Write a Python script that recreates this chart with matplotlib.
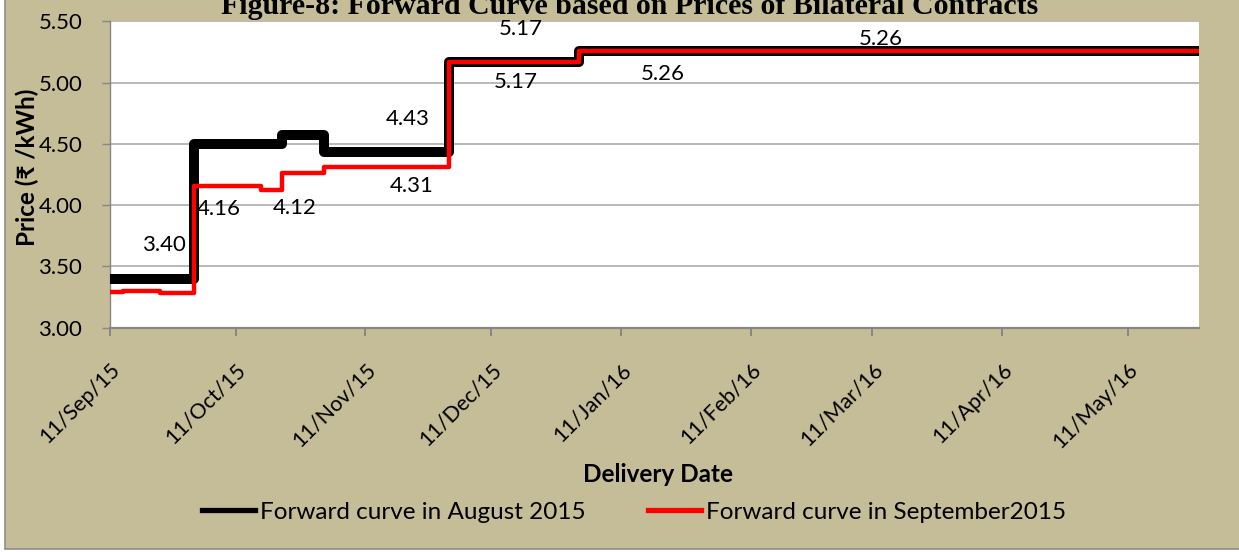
import matplotlib
matplotlib.use("Agg")
import matplotlib.pyplot as plt
import matplotlib.dates as mdates
from matplotlib.patches import Rectangle
from matplotlib.lines import Line2D
import numpy as np

# ---------------- data ----------------
aug_dates = ["2015-09-11", "2015-10-01", "2015-10-22", "2015-11-01",
             "2015-12-01", "2016-01-01", "2016-05-28"]
aug_values = [3.40, 4.50, 4.57, 4.43, 5.17, 5.26, 5.26]

sep_dates = ["2015-09-11", "2015-09-14", "2015-09-23", "2015-10-01",
             "2015-10-17", "2015-10-22", "2015-11-01", "2015-12-01",
             "2016-01-01", "2016-05-28"]
sep_values = [3.29, 3.30, 3.28, 4.16, 4.12, 4.26, 4.31, 5.17, 5.26, 5.26]

label_dates = ["2015-09-24", "2015-10-07", "2015-10-25", "2015-11-21",
               "2015-11-22", "2015-12-18", "2015-12-17", "2016-03-13",
               "2016-01-21"]
label_values = [3.40, 4.16, 4.12, 4.43, 4.31, 5.17, 5.17, 5.26, 5.26]

series_names = ["Forward curve in August 2015", "Forward curve in September2015"]
title = "Figure-8: Forward Curve based on Prices of Bilateral Contracts"
ylabel = "Price (\u20b9 /kWh)"
xlabel = "Delivery Date"
yticks = [3.00, 3.50, 4.00, 4.50, 5.00, 5.50]

# ---------------- layout / style ----------------
W, H = 1239, 552
label_offsets_px = [34, -23, -18, 33, -19, 33, -20, 12, -23]
x_start, x_end = "2015-09-11", "2016-05-28"
FONT = ["Lato", "DejaVu Sans"]
TAN = "#C4BD97"
GRID = "#A6A6A6"
AXC = "#868686"
FS = 16
FS_BIG = 17.5

plt.rcParams["font.family"] = FONT

fig = plt.figure(figsize=(W / 100, H / 100), dpi=100, facecolor="white")
fig.patches.append(Rectangle((5 / W, 3 / H), 1.0, 1.0, transform=fig.transFigure,
                             facecolor=TAN, edgecolor="#8C8C8C", lw=1.2, zorder=-10))

left, right, top, bottom = 110, 1199, 21.4, 327.7
ax = fig.add_axes([left / W, 1 - bottom / H, (right - left) / W, (bottom - top) / H])
ax.set_facecolor("white")

ad = np.array(aug_dates, dtype="datetime64[D]")
sd = np.array(sep_dates, dtype="datetime64[D]")
ax.plot(ad, aug_values, drawstyle="steps-post", color="black", lw=7.2,
        solid_joinstyle="round", solid_capstyle="butt", zorder=3)
ax.plot(sd, sep_values, drawstyle="steps-post", color="#FF0000", lw=3.2,
        solid_joinstyle="round", solid_capstyle="butt", zorder=4)

ld = np.array(label_dates, dtype="datetime64[D]")
for d, v, off in zip(ld, label_values, label_offsets_px):
    ax.annotate(f"{v:.2f}", xy=(d, v), xytext=(0, off * 0.72), textcoords="offset points",
                ha="center", va="center", fontsize=FS, color="black", zorder=6,
                annotation_clip=False)

ax.set_xlim(np.datetime64(x_start), np.datetime64(x_end))
ax.set_ylim(3.0, 5.5)
ax.set_yticks(yticks)
ax.yaxis.set_major_formatter(matplotlib.ticker.FormatStrFormatter("%.2f"))
ax.xaxis.set_major_locator(mdates.MonthLocator(bymonthday=11))
ax.xaxis.set_major_formatter(mdates.DateFormatter("%d/%b/%y"))
ax.grid(axis="y", color=GRID, lw=1.1)
ax.set_axisbelow(True)
for s in ["top", "right"]:
    ax.spines[s].set_visible(False)
ax.spines["left"].set_color(AXC)
ax.spines["left"].set_linewidth(1.0)
ax.spines["bottom"].set_color(AXC)
ax.spines["bottom"].set_linewidth(1.6)
ax.tick_params(axis="y", length=6, width=1.0, color=AXC, pad=14, labelsize=FS)
ax.tick_params(axis="x", length=6, width=1.4, color=AXC, pad=17, labelsize=15.5)
for lab in ax.get_xticklabels():
    lab.set_rotation(45)
    lab.set_ha("right")
    lab.set_va("top")
    lab.set_rotation_mode("anchor")

fig.text(0.508, 1 - 14 / H, title, ha="center", va="baseline",
         fontfamily="Liberation Serif", fontweight="bold", fontsize=21.5)
fig.text(27 / W, 1 - 167 / H, ylabel, rotation=90, ha="center", va="center",
         fontsize=FS_BIG, fontweight="bold", family=["Lato", "DejaVu Sans"])
fig.text(658 / W, 1 - 475 / H, xlabel, ha="center", va="center",
         fontsize=FS_BIG, fontweight="bold")

handles = [Line2D([], [], color="black", lw=3.8), Line2D([], [], color="#FF0000", lw=3.8)]
fig.legend(handles, series_names, loc="center", bbox_to_anchor=(634 / W, 1 - 512 / H),
           ncol=2, frameon=False, fontsize=FS_BIG, handlelength=2.2, handletextpad=0.2,
           columnspacing=2.55, borderpad=0)

fig.savefig("out.png", dpi=100, facecolor=fig.get_facecolor())
